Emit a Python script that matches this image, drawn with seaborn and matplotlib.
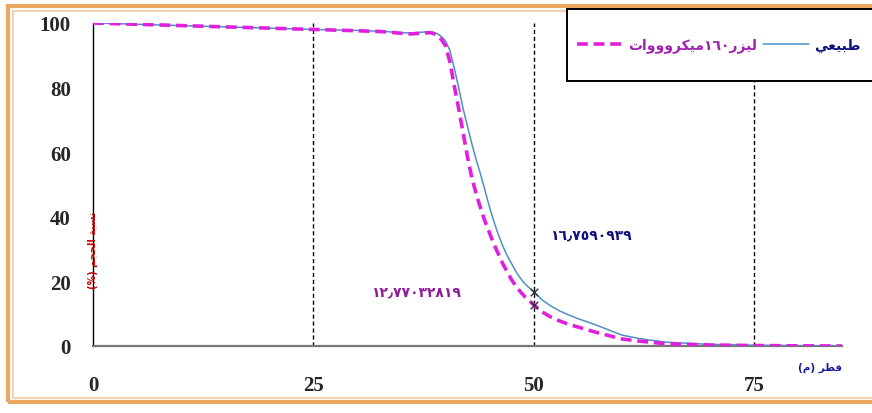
import re

import matplotlib.pyplot as plt
import pandas as pd
import seaborn as sns
from matplotlib.patches import Rectangle

# data
size_um = [0, 5, 10, 15, 20, 25, 30, 33, 35, 36, 37, 38, 38.5, 39, 39.5, 40, 40.5, 41, 41.5,
           42, 42.5, 43, 43.5, 44, 44.5, 45, 45.5, 46, 46.5, 47, 47.5, 48, 48.5, 49, 50,
           51, 52, 53, 54, 55, 57, 60, 62, 65, 70, 75, 80, 85]
natural = [100, 99.6, 99.2, 98.8, 98.4, 98.0, 97.7, 97.4, 97.0, 96.9, 97.1, 97.3, 97.2, 96.8,
           95.9, 94.5, 91.5, 86, 80, 73.5, 68, 62.5, 57.5, 53, 48, 43, 38.5, 34.5, 31, 28,
           25.5, 23, 21, 19.3, 16.7590939, 14.2, 12.3, 10.8, 9.6, 8.5, 6.6, 3.4, 2.3, 1.2,
           0.5, 0.25, 0.1, 0.05]
laser = [100, 99.6, 99.2, 98.8, 98.4, 98.0, 97.6, 97.3, 96.8, 96.6, 96.8, 97.0, 96.9, 96.3,
         95.0, 93.0, 88, 80.5, 73.5, 66, 58.5, 52, 47, 42.5, 38.5, 35, 31.5, 28.5, 25.5, 23,
         20.5, 18.5, 16.8, 15.3, 12.77032819, 10.5, 8.9, 7.7, 6.7, 5.9, 4.3, 2.2, 1.5, 0.7,
         0.3, 0.15, 0.05, 0]
mark_x = [50, 50]
mark_y = [16.7590939, 12.77032819]
natural_label = "طبيعي"
laser_label = "ليزر١٦٠ميكروووات"
natural_note = "١٦٫٧٥٩٠٩٣٩"
laser_note = "١٢٫٧٧٠٣٢٨١٩"
x_title = "قطر (م)"
y_title = "نسبة الحجم (%)"
x_ticks = [0, 25, 50, 75]
y_ticks = [0, 20, 40, 60, 80, 100]

# tiny arabic shaper (no bidi lib available), presentation forms B
FORMS = {
    'ا': ('\uFE8D', '\uFE8E', None, None), 'ب': ('\uFE8F', '\uFE90', '\uFE91', '\uFE92'),
    'ة': ('\uFE93', '\uFE94', None, None), 'ت': ('\uFE95', '\uFE96', '\uFE97', '\uFE98'),
    'ج': ('\uFE9D', '\uFE9E', '\uFE9F', '\uFEA0'), 'ح': ('\uFEA1', '\uFEA2', '\uFEA3', '\uFEA4'),
    'د': ('\uFEA9', '\uFEAA', None, None), 'ر': ('\uFEAD', '\uFEAE', None, None),
    'ز': ('\uFEAF', '\uFEB0', None, None), 'س': ('\uFEB1', '\uFEB2', '\uFEB3', '\uFEB4'),
    'ط': ('\uFEC1', '\uFEC2', '\uFEC3', '\uFEC4'), 'ع': ('\uFEC9', '\uFECA', '\uFECB', '\uFECC'),
    'ق': ('\uFED5', '\uFED6', '\uFED7', '\uFED8'), 'ك': ('\uFED9', '\uFEDA', '\uFEDB', '\uFEDC'),
    'ل': ('\uFEDD', '\uFEDE', '\uFEDF', '\uFEE0'), 'م': ('\uFEE1', '\uFEE2', '\uFEE3', '\uFEE4'),
    'ن': ('\uFEE5', '\uFEE6', '\uFEE7', '\uFEE8'), 'و': ('\uFEED', '\uFEEE', None, None),
    'ي': ('\uFEF1', '\uFEF2', '\uFEF3', '\uFEF4'),
}


def ar(text):
    out = []
    for i, c in enumerate(text):
        if c not in FORMS:
            out.append(c)
            continue
        prev = text[i - 1] if i > 0 else ''
        nxt = text[i + 1] if i + 1 < len(text) else ''
        jp = prev in FORMS and FORMS[prev][2] is not None
        jn = nxt in FORMS and FORMS[c][2] is not None
        iso, fin, ini, med = FORMS[c]
        out.append(med if jp and jn else fin if jp else ini if jn else iso)
    shaped = ''.join(out)
    runs = re.findall(r'[\u0660-\u066B0-9]+|[^\u0660-\u066B0-9]+', shaped)
    vis = []
    for r in reversed(runs):
        if re.match(r'[\u0660-\u066B0-9]', r):
            vis.append(r)
        else:
            vis.append(r[::-1].translate(str.maketrans('()', ')(')))
    return ''.join(vis)


sns.set_style('white')
plt.rcParams['font.family'] = ['DejaVu Sans']

df = pd.DataFrame({'size': size_um, 'natural': natural, 'laser': laser})

fig = plt.figure(figsize=(8.72, 4.14), dpi=100)
ax = fig.add_axes([93 / 872, 1 - 347 / 414, (842 - 93) / 872, (347 - 24) / 414])

for xv in x_ticks[1:]:
    ax.axvline(xv, color='black', linestyle=(0, (3, 2)), linewidth=1, zorder=1)

sns.lineplot(data=df, x='size', y='natural', ax=ax, color='#4f8fc6', linewidth=1.1,
             label=ar(natural_label), zorder=3)
sns.lineplot(data=df, x='size', y='laser', ax=ax, color='#e020dc', linewidth=2.6,
             linestyle=(0, (3, 1.6)), label=ar(laser_label), zorder=4)
sns.scatterplot(x=mark_x, y=mark_y, ax=ax, marker='x', color='#333333', s=30,
                linewidth=1, zorder=5)

ax.set_xlim(0, 85)
ax.set_ylim(0, 100)
ax.set_xticks(x_ticks)
ax.set_xticks(range(10, 90, 10), minor=True)
ax.set_yticks(y_ticks)
ax.set_yticks(range(10, 100, 20), minor=True)
ax.set_xlabel('')
ax.set_ylabel('')
for lab in ax.get_xticklabels() + ax.get_yticklabels():
    lab.set_fontfamily('Liberation Serif')
    lab.set_fontweight('bold')
    lab.set_fontsize(15)
ax.tick_params(axis='x', which='major', direction='inout', length=8, width=1, pad=17,
               color='black')
ax.tick_params(axis='x', which='minor', direction='in', length=5, width=1, color='black')
ax.tick_params(axis='y', which='major', direction='inout', length=8, width=1, pad=12,
               color='black')
ax.tick_params(axis='y', which='minor', direction='in', length=5, width=1, color='black')

for s in ['top', 'right']:
    ax.spines[s].set_visible(False)
ax.spines['left'].set_color('black')
ax.spines['left'].set_linewidth(1)
ax.spines['bottom'].set_color('#777777')
ax.spines['bottom'].set_linewidth(1.6)

ax.text(0, 0.30, ar(y_title), transform=ax.transAxes, rotation=90, ha='center',
        va='center', color='#cc0000', fontsize=7, fontweight='bold', zorder=6)
ax.text(0.971, -0.065, ar(x_title), transform=ax.transAxes, ha='center', va='center',
        color='#1a1a9a', fontsize=7.5, fontweight='bold')
ax.text(36.6, 17, laser_note, ha='center', va='center', color='#8e1a9a',
        fontsize=10, fontweight='bold')
ax.text(56.5, 34.4, natural_note, ha='center', va='center', color='#101080',
        fontsize=10, fontweight='bold')

# legend box drawn as a plain rectangle, legend itself without frame
fig.patches.append(Rectangle((567 / 872, 1 - 82 / 414), 320 / 872, 72 / 414,
                             transform=fig.transFigure, facecolor='white',
                             edgecolor='black', linewidth=1.4, zorder=9))
handles, labels = ax.get_legend_handles_labels()
ax.get_legend().remove()
leg = fig.legend([handles[1], handles[0]], [labels[1], labels[0]], ncol=2,
                 loc='center left', bbox_to_anchor=(577 / 872, 1 - 46 / 414),
                 frameon=False, borderpad=0,
                 handlelength=3.3, handletextpad=0.4, columnspacing=0.4, borderaxespad=0,
                 prop={'weight': 'bold', 'size': 10})
leg.set_zorder(11)
leg.get_texts()[0].set_color('#a020b0')
leg.get_texts()[1].set_color('#101080')

# orange double frame around the figure
fig.patches.append(Rectangle((8 / 872, 11 / 414), 1, 1 - 18 / 414, transform=fig.transFigure,
                             fill=False, edgecolor='#e9a762', linewidth=3, zorder=0))
fig.patches.append(Rectangle((13 / 872, 15 / 414), 1, 1 - 27 / 414, transform=fig.transFigure,
                             fill=False, edgecolor='#f3c9a0', linewidth=1.2, zorder=0))

fig.savefig('out.png', dpi=100)
